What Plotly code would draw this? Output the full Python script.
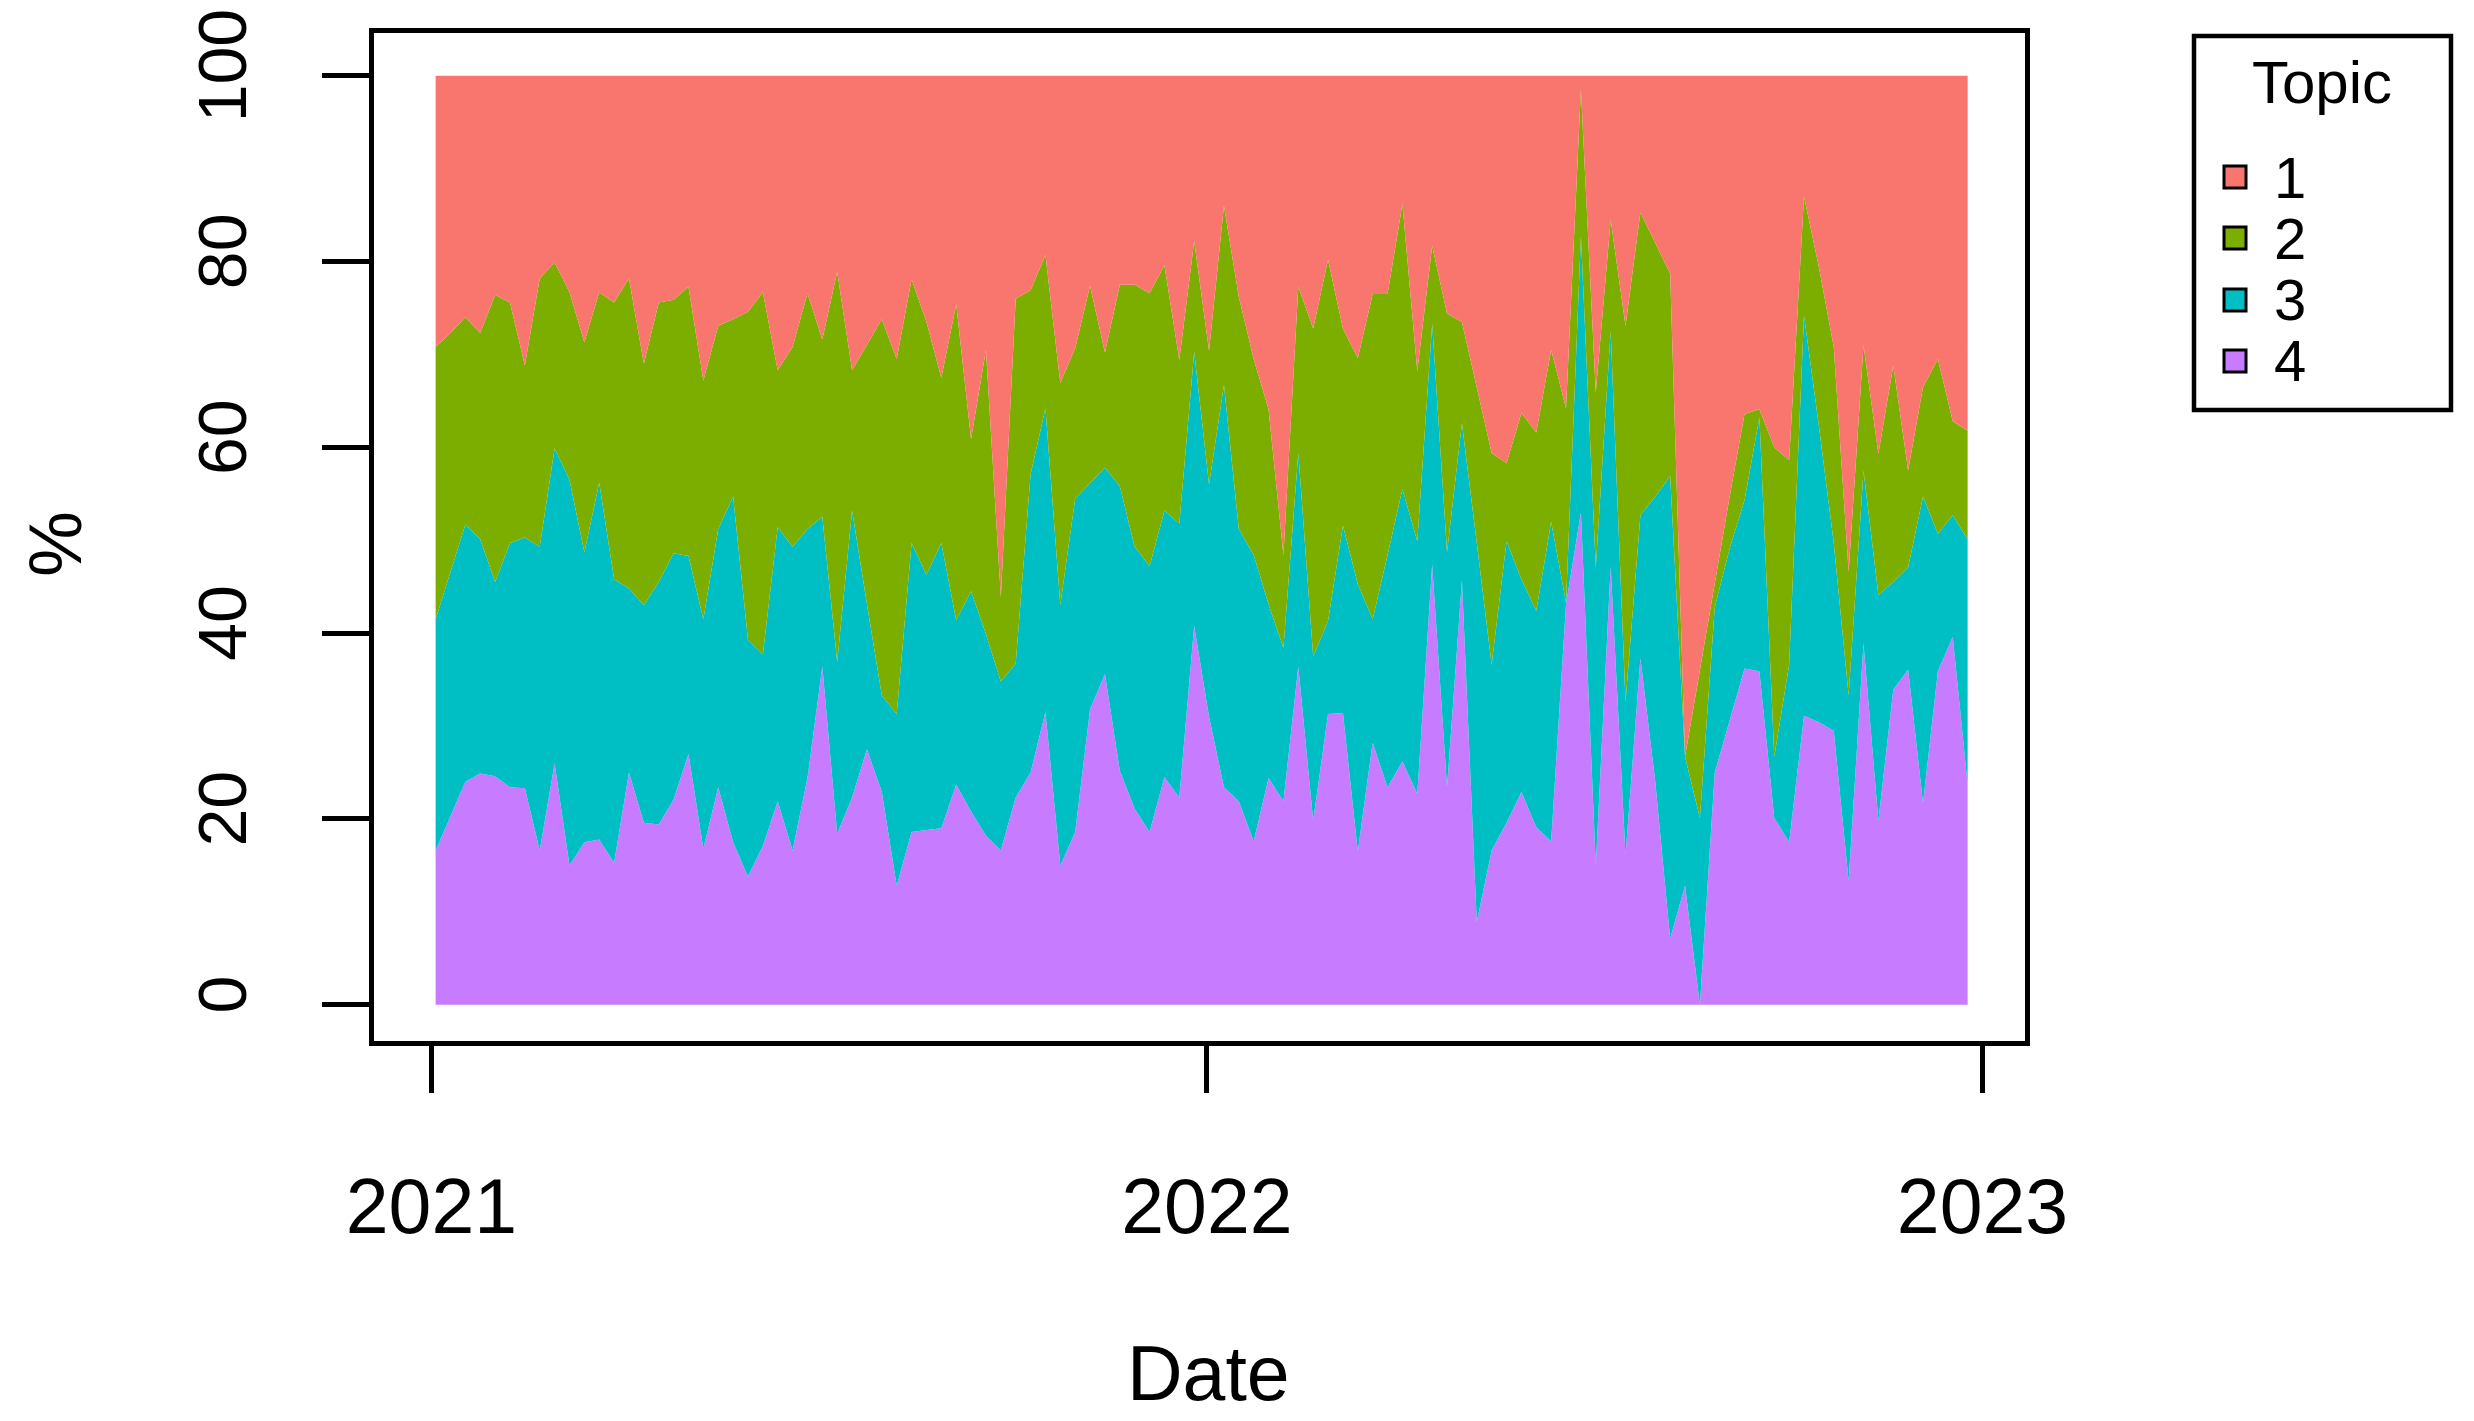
import pandas as pd
import plotly.graph_objects as go

dates = pd.date_range("2021-01-03", periods=104, freq="7D")

# cumulative boundaries (% from bottom)
top_topic4 = [16.6,20.3,24.0,24.9,24.6,23.4,23.3,16.6,26.0,15.0,17.5,17.8,15.3,25.0,19.6,19.4,22.1,27.0,16.8,23.4,17.5,13.8,17.1,21.9,16.6,24.4,
              36.4,18.4,22.3,27.5,22.9,12.8,18.6,18.8,19.0,23.7,20.8,18.2,16.6,22.3,25.0,31.5,15.0,18.6,31.8,35.6,25.2,21.1,18.6,24.5,22.3,40.8,
              31.0,23.4,21.9,17.6,24.4,21.9,36.4,19.8,31.3,31.4,16.5,28.2,23.4,26.2,22.7,47.4,23.4,45.7,8.9,16.6,19.6,22.9,19.1,17.6,43.1,53.0,
              15.0,47.2,16.1,37.3,24.0,7.1,12.8,0.0,25.0,30.6,36.2,35.9,20.1,17.5,31.1,30.4,29.5,13.3,38.9,19.8,33.9,36.1,21.7,35.9,39.6,23.7]
top_topic3 = [41.5,46.6,51.7,50.1,45.5,49.7,50.3,49.3,59.9,56.5,48.7,56.2,45.8,44.8,43.0,45.5,48.6,48.3,41.5,51.2,54.7,39.3,37.7,51.4,49.3,51.2,
              52.5,36.9,53.2,43.1,33.3,31.3,49.7,46.3,49.7,41.4,44.5,39.9,34.8,36.7,57.1,64.2,43.0,54.5,56.2,57.8,55.8,49.3,47.2,53.2,51.8,70.3,
              56.0,66.7,51.2,48.4,43.1,38.4,59.4,37.5,41.3,51.6,45.3,41.5,48.4,55.5,49.9,73.3,48.7,62.6,49.7,36.6,49.9,45.8,42.4,52.0,43.3,82.7,
              47.1,72.5,32.6,52.7,54.7,56.9,26.7,20.1,42.8,49.1,54.3,63.2,26.7,36.6,74.2,62.3,49.7,33.3,57.5,44.1,45.5,47.1,54.7,50.7,52.7,50.1]
top_topic2 = [70.8,72.3,74.0,72.3,76.4,75.6,68.8,78.2,79.9,76.7,71.3,76.7,75.6,78.2,69.0,75.6,75.9,77.3,67.2,73.1,73.8,74.6,76.7,68.3,70.8,76.6,
              71.6,78.9,68.3,71.1,73.8,69.5,78.1,73.5,67.5,75.4,60.9,70.5,43.9,76.0,76.9,80.7,66.9,70.7,77.4,70.2,77.5,77.5,76.6,79.6,69.4,82.2,
              70.4,86.0,76.2,69.5,64.1,48.4,77.3,72.8,80.2,72.8,69.6,76.5,76.5,86.2,68.2,81.7,74.4,73.5,66.5,59.4,58.3,63.7,61.6,70.5,64.2,98.5,
              65.9,84.5,73.1,85.3,82.0,78.7,26.7,36.1,45.1,54.7,63.6,64.1,60.0,58.6,87.0,79.4,70.8,46.6,71.0,59.3,68.8,57.5,66.5,69.5,62.8,61.8]

topic4 = top_topic4
topic3 = [b - a for a, b in zip(top_topic4, top_topic3)]
topic2 = [b - a for a, b in zip(top_topic3, top_topic2)]
topic1 = [100 - a for a in top_topic2]

topics = ["1", "2", "3", "4"]
colors = ["#F8766D", "#7CAE00", "#00BFC4", "#C77CFF"]
series = [topic1, topic2, topic3, topic4]

FONT = "Liberation Sans, Arial, sans-serif"
fig = go.Figure()
for name, col, vals in reversed(list(zip(topics, colors, series))):
    fig.add_trace(go.Scatter(x=dates, y=vals, name=name, stackgroup="one",
                             mode="lines", line=dict(width=0, color=col),
                             fillcolor=col, showlegend=False, hoverinfo="skip"))

W, H = 2474, 1421
L, R, T, B = 366, 457, 25, 388
PW, PH = W - L - R, H - T - B


def px(X):
    return (X - L) / PW


def py(Y):
    return (H - B - Y) / PH


fig.update_layout(
    width=W, height=H, margin=dict(l=L, r=R, t=T, b=B, autoexpand=False),
    plot_bgcolor="white", paper_bgcolor="white",
    font=dict(family=FONT, color="black", size=77),
    xaxis=dict(range=["2020-12-05", "2023-01-21"], tickvals=["2021-01-01", "2022-01-01", "2023-01-01"],
               ticktext=["2021", "2022", "2023"], ticks="outside", ticklen=47, tickwidth=4.5,
               tickcolor="black", showline=True, linecolor="black", linewidth=4.5, mirror=True,
               showgrid=False, zeroline=False, ticklabelstandoff=48, ticklabeloverflow="allow",
               automargin=False),
    yaxis=dict(range=[-3.9, 104.6], tickvals=[0, 20, 40, 60, 80, 100], tickangle=-90,
               ticks="outside", ticklen=47, tickwidth=4.5, tickcolor="black",
               showline=True, linecolor="black", linewidth=4.5, mirror=True, tickfont=dict(size=68),
               showgrid=False, zeroline=False, ticklabelstandoff=49, ticklabeloverflow="allow",
               automargin=False),
)

fig.add_annotation(text="Date", xref="paper", yref="paper", x=px(1200), y=py(1365),
                   showarrow=False, font=dict(size=77), yanchor="middle")
fig.add_annotation(text="%", xref="paper", yref="paper", x=px(47), y=py(536),
                   showarrow=False, textangle=-90, font=dict(size=74), xanchor="center", yanchor="middle")

# legend
fig.add_shape(type="rect", xref="paper", yref="paper", x0=px(2186), x1=px(2443),
              y0=py(402), y1=py(28), line=dict(color="black", width=4.5), fillcolor="white")
fig.add_annotation(text="Topic", xref="paper", yref="paper", x=px(2314), y=py(74),
                   showarrow=False, font=dict(size=60), xanchor="center", yanchor="middle")
item_y = [169, 230, 292, 353]
for name, col, yy in zip(topics, colors, item_y):
    fig.add_shape(type="rect", xref="paper", yref="paper",
                  x0=px(2216), x1=px(2238), y0=py(yy + 11), y1=py(yy - 11),
                  line=dict(color="black", width=3), fillcolor=col)
    fig.add_annotation(text=name, xref="paper", yref="paper", x=px(2264), y=py(yy),
                       showarrow=False, font=dict(size=58), xanchor="left", yanchor="middle")

fig.write_html("out.html")
